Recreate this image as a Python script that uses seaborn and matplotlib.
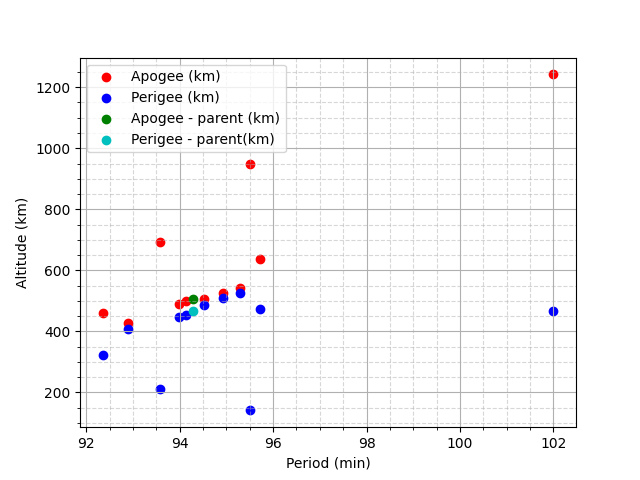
"""
Gabbard-style plot of debris fragments: altitude vs orbital period.
"""

import pandas as pd
import seaborn as sns
import matplotlib
matplotlib.use("Agg")
import matplotlib.pyplot as plt

# Fragment data
period = [92.35, 93.57, 92.89, 93.98, 94.13, 94.53, 94.93, 95.29, 95.72, 95.50, 102.0]
apogee = [460, 692, 426, 490, 500, 506, 527, 542, 636, 948, 1242]
perigee = [321, 210, 407, 448, 454, 488, 509, 526, 473, 141, 466]

# Parent object
parent_period = [94.28]
parent_apogee = [505]
parent_perigee = [466]

debris = pd.DataFrame({'period': period, 'apogee': apogee, 'perigee': perigee})
parent = pd.DataFrame({'period': parent_period, 'apogee': parent_apogee,
                       'perigee': parent_perigee})

fig, ax = plt.subplots(figsize=(6.4, 4.8), dpi=100)

kw = dict(s=36, edgecolor='face', linewidth=1, ax=ax)
sns.scatterplot(data=debris, x='period', y='apogee', color='r', label='Apogee (km)', **kw)
sns.scatterplot(data=debris, x='period', y='perigee', color='b', label='Perigee (km)', **kw)
sns.scatterplot(data=parent, x='period', y='apogee', color='g', label='Apogee - parent (km)', **kw)
sns.scatterplot(data=parent, x='period', y='perigee', color='c', label='Perigee - parent(km)', **kw)

ax.set_xlabel('Period (min)')
ax.set_ylabel('Altitude (km)')
ax.minorticks_on()
ax.grid(which='major')
ax.grid(which='minor', linestyle='--', alpha=0.5)
ax.legend(loc='upper left')

fig.savefig('out.png', dpi=100)
